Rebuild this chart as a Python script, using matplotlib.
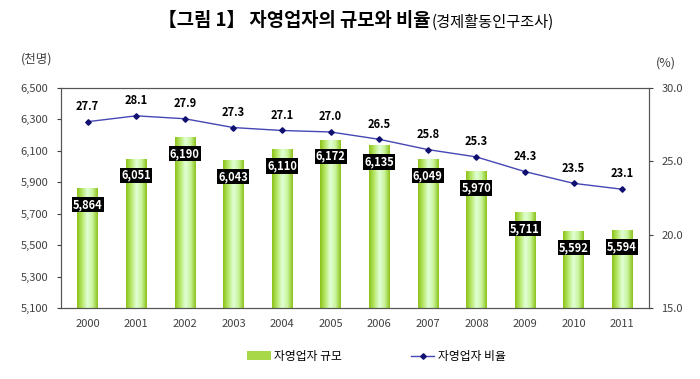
import numpy as np
import matplotlib
matplotlib.use("Agg")
import matplotlib.pyplot as plt
from matplotlib.colors import LinearSegmentedColormap
from matplotlib.lines import Line2D
from matplotlib.patches import Patch

plt.rcParams["font.family"] = ["Noto Sans CJK KR", "DejaVu Sans"]

years = ["2000", "2001", "2002", "2003", "2004", "2005",
         "2006", "2007", "2008", "2009", "2010", "2011"]
size_k = [5864, 6051, 6190, 6043, 6110, 6172, 6135, 6049, 5970, 5711, 5592, 5594]
ratio = [27.7, 28.1, 27.9, 27.3, 27.1, 27.0, 26.5, 25.8, 25.3, 24.3, 23.5, 23.1]

fig = plt.figure(figsize=(7, 3.79), dpi=100)
ax = fig.add_axes([0.087, 0.187, 0.840, 0.581])
ax2 = ax.twinx()

x = np.arange(len(years))
bars = ax.bar(x, size_k, width=0.42, bottom=0, color="#A8D848",
              edgecolor="none", zorder=2)

# horizontal gradient inside each bar
grad_cmap = LinearSegmentedColormap.from_list(
    "barg", ["#8CC21A", "#B8E86A", "#E2FFD8", "#C8F49A", "#8CC21A"])
grad = np.linspace(0, 1, 64).reshape(1, -1)
for b in bars:
    x0, w, h = b.get_x(), b.get_width(), b.get_height()
    im = ax.imshow(grad, cmap=grad_cmap, extent=[x0, x0 + w, 5100, h],
                   aspect="auto", zorder=2.1, interpolation="bilinear")
    im.set_clip_path(b)

ax.set_xlim(-0.55, len(years) - 0.45)
ax.set_ylim(5100, 6500)
ax.set_yticks(np.arange(5100, 6501, 200))
ax.set_yticklabels([f"{v:,}" for v in range(5100, 6501, 200)])
ax.set_xticks(x)
ax.set_xticklabels(years)

for xi, v in zip(x, size_k):
    ax.annotate(f"{v:,}", (xi, v), xytext=(0, -12), textcoords="offset points",
                ha="center", va="center", color="white", fontsize=8,
                fontweight="bold", zorder=5,
                bbox=dict(boxstyle="square,pad=0.1", fc="black", ec="none"))

ax2.plot(x, ratio, color="#4646B4", lw=1.0, marker="D", ms=2.8,
         mfc="#101070", mec="#101070", zorder=4)
ax2.set_ylim(15, 30)
ax2.set_yticks([15, 20, 25, 30])
ax2.set_yticklabels([f"{v:.1f}" for v in [15, 20, 25, 30]])
for xi, v in zip(x, ratio):
    ax2.annotate(f"{v:.1f}", (xi, v), xytext=(0, 11), textcoords="offset points",
                 ha="center", va="center", color="black", fontsize=8,
                 fontweight="bold")

for a in (ax, ax2):
    for s in a.spines.values():
        s.set_color("#555555")
        s.set_linewidth(0.8)
    a.tick_params(labelsize=8, colors="#404040", length=3, width=0.8)
ax.tick_params(axis="x", length=0, pad=8)
ax.tick_params(axis="y", pad=6)
ax2.tick_params(axis="y", pad=6)

fig.text(0.052, 0.835, "(천명)", fontsize=9, color="#404040", ha="center")
fig.text(0.951, 0.825, "(%)", fontsize=9, color="#404040", ha="center")

t = fig.text(0.226, 0.945, "【그림 1】 자영업자의 규모와 비율", fontsize=13.5,
             fontweight="bold", ha="left", va="center")
fig.canvas.draw()
bb = t.get_window_extent().transformed(fig.transFigure.inverted())
# parenthetical right after the main title
fig.text(bb.x1 + 0.002, 0.942, "(경제활동인구조사)", fontsize=11,
         ha="left", va="center")

handles = [Patch(facecolor="#A8D848", edgecolor="none"),
           Line2D([0], [0], color="#4646B4", lw=1.0, marker="D", ms=2.8,
                  mfc="#101070", mec="#101070")]
fig.legend(handles, ["자영업자 규모", "자영업자 비율"], loc="center",
           bbox_to_anchor=(0.538, 0.06), ncol=2, frameon=False, fontsize=8.5,
           columnspacing=5.8, handlelength=2.0, handletextpad=0.3)

fig.savefig("out.png", dpi=100)
